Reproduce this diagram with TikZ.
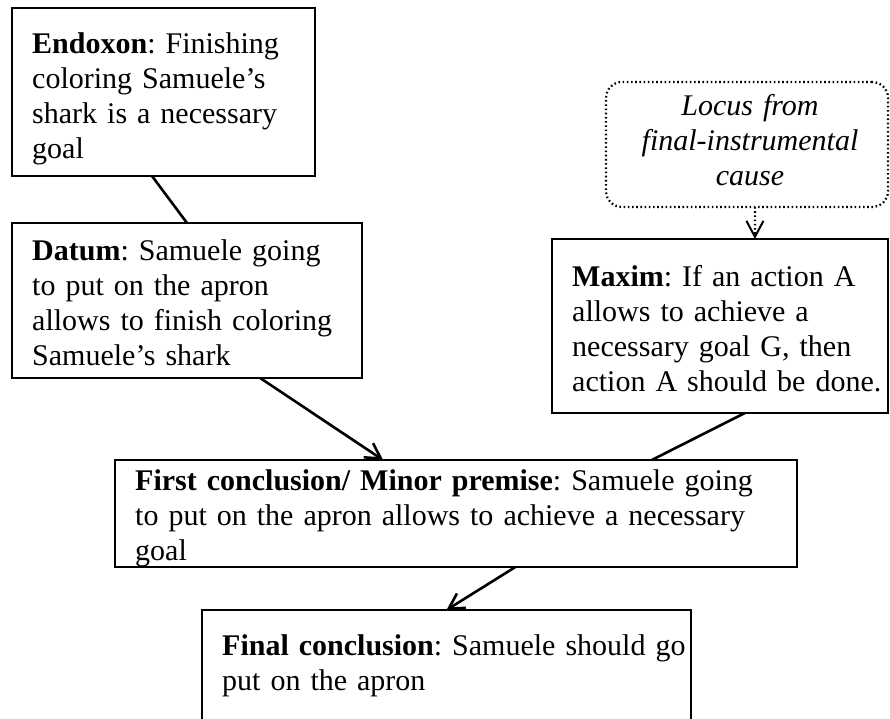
\documentclass[tikz,border=0pt]{standalone}
\usepackage{fontspec}
\setmainfont{Liberation Serif}
\usetikzlibrary{arrows.meta,calc}
\frenchspacing
\begin{document}
\begin{tikzpicture}[x=1pt,y=-1pt,
  frame/.style={draw=black, line width=1.6pt, anchor=north west, inner sep=0pt, outer sep=0pt},
  dotframe/.style={frame, line width=2.2pt, dash pattern=on 1.6pt off 2.6pt, rounded corners=16pt},
  boxtext/.style={anchor=north west, inner sep=0pt, text width=#1, align=left,
    font=\fontsize{30}{35}\selectfont},
  link/.style={draw=black, line width=2.6pt},
  arrowlink/.style={link, -{Straight Barb[length=15pt,width=17pt]}},
]
\path[use as bounding box, clip] (0,0) rectangle (890,718);

% argument boxes
\node[frame, minimum width=303pt, minimum height=168pt] (endoxon) at (12,8) {};
\node[frame, minimum width=350pt, minimum height=155pt] (datum) at (12,223) {};
\node[dotframe, minimum width=282pt, minimum height=125pt] (locus) at (606,82) {};
\node[frame, minimum width=336pt, minimum height=174pt] (maxim) at (552,239) {};
\node[frame, minimum width=682pt, minimum height=107pt] (first) at (115,460) {};
\node[frame, minimum width=489pt, minimum height=150pt] (final) at (202,610) {};

% box texts
\node[boxtext=330pt] (endoxontext) at (32,28.5)
  {\strut\textbf{Endoxon}: Finishing\\coloring Samuele’s\\shark is a necessary\\goal};
\node[boxtext=340pt] (datumtext) at (32,235.5)
  {\strut\textbf{Datum}: Samuele going\\to put on the apron\\allows to finish coloring\\Samuele’s shark};
\node[anchor=north, inner sep=0pt, text width=280pt, align=center,
  font=\fontsize{30}{35}\selectfont\itshape] (locustext) at (750,90.5)
  {\strut Locus from\\final-instrumental\\cause};
\node[boxtext=330pt] (maximtext) at (572,261.5)
  {\strut\textbf{Maxim}: If an action A\\allows to achieve a\\necessary goal G, then\\action A should be done.};
\node[boxtext=660pt] (firsttext) at (135,465.5)
  {\strut\textbf{First conclusion/ Minor premise}: Samuele going\\to put on the apron allows to achieve a necessary\\goal};
\node[boxtext=480pt] (finaltext) at (222,630.5)
  {\strut\textbf{Final conclusion}: Samuele should go\\put on the apron};

% connectors
\draw[link] ($(endoxon.south west)!0.462!(endoxon.south east)$) -- (datum.north);
\draw[arrowlink] ($(datum.south west)!0.709!(datum.south east)$)
  -- ($(first.north west)!0.393!(first.north east)$);
\draw[link] ($(maxim.south west)!0.574!(maxim.south east)$)
  -- ($(first.north west)!0.787!(first.north east)$);
\draw[arrowlink] ($(first.south west)!0.587!(first.south east)$) -- (final.north);
\draw[line width=2.2pt, dash pattern=on 1.6pt off 2.6pt,
  -{Straight Barb[length=16pt,width=17pt,line width=2pt]}]
  ($(locus.south west)!0.528!(locus.south east)$)
  -- ($(maxim.north west)!0.604!(maxim.north east)$);
\end{tikzpicture}
\end{document}
